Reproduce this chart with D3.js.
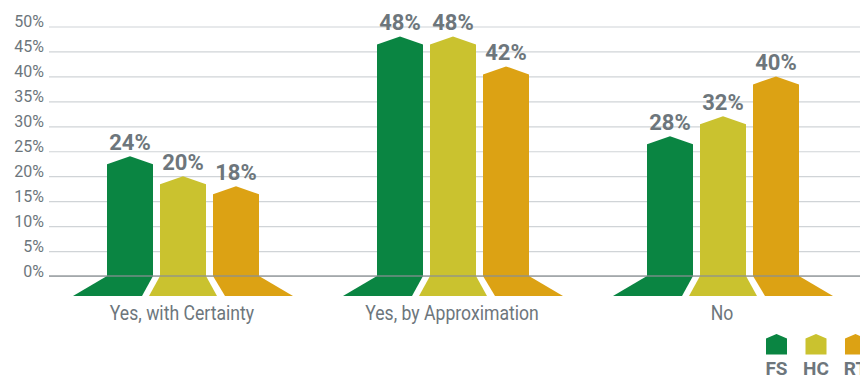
<!DOCTYPE html>
<html>
<head>
<meta charset="utf-8">
<script src="https://cdn.jsdelivr.net/npm/d3@7"></script>
<style>
  html, body { margin: 0; padding: 0; background: #fff; }
  svg { display: block; }
</style>
</head>
<body>
<svg id="chart" width="860" height="377"></svg>
<script>
const categories = ["Yes, with Certainty", "Yes, by Approximation", "No"];
const seriesNames = ["FS", "HC", "RT"];
const fsValues = [24, 48, 28];
const hcValues = [20, 48, 32];
const rtValues = [18, 42, 40];
const yTickValues = [0, 5, 10, 15, 20, 25, 30, 35, 40, 45, 50];
const seriesColors = ["#0a8542", "#cac22f", "#dca214"];

const seriesValues = [fsValues, hcValues, rtValues];
const rows = categories.map((c, ci) => ({
  category: c,
  values: seriesNames.map((s, si) => ({ series: s, si, value: seriesValues[si][ci] }))
}));

const svg = d3.select("#chart");
const textGray = "#6d767c";
const font = "Roboto, 'Noto Sans', sans-serif";

const y = d3.scaleLinear().domain([0, 50]).range([276, 26.5]);
const x0 = d3.scaleBand().domain(categories).range([48, 858]);
const x1 = d3.scaleBand().domain(seriesNames).range([-76, 76]).paddingInner(7 / 53);
const color = d3.scaleOrdinal().domain(seriesNames).range(seriesColors);

// axis + gridlines
const axis = d3.axisLeft(y)
  .tickValues(yTickValues)
  .tickFormat(d => d + "%")
  .tickSizeInner(-(860 - 49))
  .tickSizeOuter(0)
  .tickPadding(5);
const gAxis = svg.append("g").attr("transform", "translate(49,0)").call(axis);
gAxis.select(".domain").remove();
gAxis.selectAll(".tick line")
  .attr("stroke", "#d0d4d7")
  .attr("stroke-width", 1.2);
gAxis.selectAll(".tick text")
  .attr("fill", textGray)
  .attr("font-family", font)
  .attr("font-size", 16)
  .attr("dy", "0.03em");

// bars
const shoulder = 8;
const flapDepth = 20;
const flapOffsets = [[-34, -11], [-11, 11], [12, 34]];

const groups = svg.append("g").selectAll("g.grp")
  .data(rows).join("g")
  .attr("class", "grp")
  .attr("transform", d => `translate(${x0(d.category) + x0.bandwidth() / 2},0)`);

groups.selectAll("path.flap")
  .data(d => d.values).join("path")
  .attr("class", "flap")
  .attr("fill", d => color(d.series))
  .attr("d", d => {
    const l = x1(d.series), r = l + x1.bandwidth();
    const b = y(0);
    const [ol, or] = flapOffsets[d.si];
    return `M${l},${b}L${r},${b}L${r + or},${b + flapDepth}L${l + ol},${b + flapDepth}Z`;
  });

groups.selectAll("path.bar")
  .data(d => d.values).join("path")
  .attr("class", "bar")
  .attr("fill", d => color(d.series))
  .attr("d", d => {
    const l = x1(d.series), r = l + x1.bandwidth(), m = (l + r) / 2;
    const top = y(d.value), b = y(0);
    return `M${l},${b}L${l},${top + shoulder}L${m},${top}L${r},${top + shoulder}L${r},${b}Z`;
  });

groups.selectAll("text.val")
  .data(d => d.values).join("text")
  .attr("class", "val")
  .attr("x", d => x1(d.series) + x1.bandwidth() / 2)
  .attr("y", d => y(d.value) - 6)
  .attr("text-anchor", "middle")
  .attr("fill", textGray)
  .attr("font-family", font)
  .attr("font-weight", "bold")
  .attr("font-size", 22)
  .text(d => d.value + "%");

// baseline over bars
svg.append("line")
  .attr("x1", 49).attr("x2", 860)
  .attr("y1", y(0)).attr("y2", y(0))
  .attr("stroke", "#8a8f93")
  .attr("stroke-opacity", 0.85)
  .attr("stroke-width", 1.5);

// category labels (slightly condensed)
svg.append("g").selectAll("text")
  .data(categories).join("text")
  .attr("transform", d => `translate(${x0(d) + x0.bandwidth() / 2 - 1},320) scale(0.86,1)`)
  .attr("text-anchor", "middle")
  .attr("fill", textGray)
  .attr("font-family", font)
  .attr("font-size", 20.5)
  .text(d => d);

// legend
const legendX = d3.scalePoint().domain(seriesNames).range([776.5, 855.5]);
const lg = svg.append("g").selectAll("g")
  .data(seriesNames).join("g")
  .attr("transform", d => `translate(${legendX(d)},0)`);
lg.append("path")
  .attr("fill", d => color(d))
  .attr("d", "M-10.5,354.5L-10.5,338.5L0,334L10.5,338.5L10.5,354.5Z");
lg.append("text")
  .attr("x", 0)
  .attr("y", 375)
  .attr("text-anchor", "middle")
  .attr("fill", textGray)
  .attr("font-family", font)
  .attr("font-weight", "bold")
  .attr("font-size", 19)
  .text(d => d);
</script>
</body>
</html>
